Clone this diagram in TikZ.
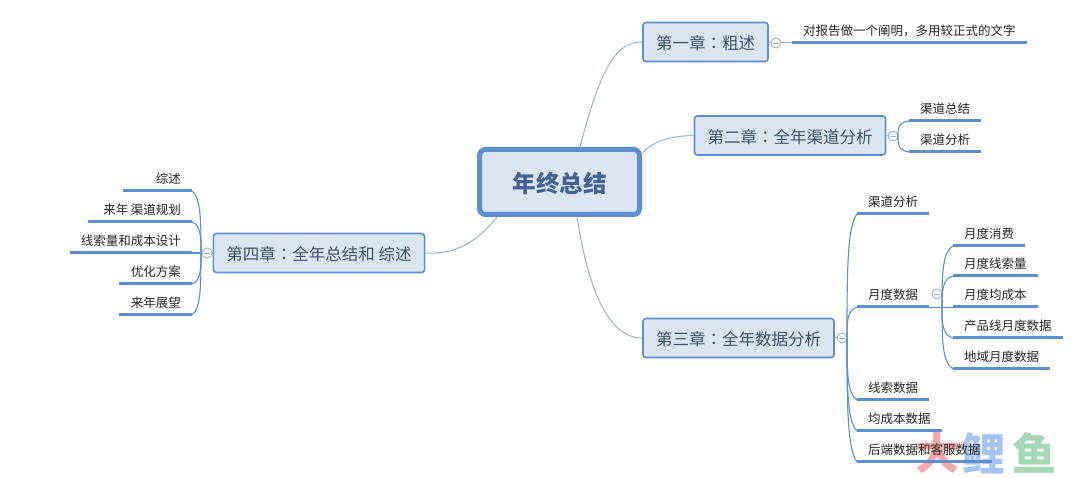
\documentclass[tikz,border=0pt]{standalone}
\usepackage{fontspec}
\setmainfont{Noto Sans CJK SC}
\newfontfamily\colonfont{Noto Sans CJK JP}
\newcommand{\chapsep}{{\colonfont ：}}
\usetikzlibrary{calc}
\definecolor{boxfill}{HTML}{DCE6F2}
\definecolor{boxline}{HTML}{5C8FD2}
\definecolor{limbline}{HTML}{93B2D8}
\definecolor{chaptext}{HTML}{3A5470}
\definecolor{roottext}{HTML}{3F6394}
\definecolor{leaftext}{HTML}{262626}
\definecolor{wmred}{HTML}{F9A6A8}
\definecolor{wmblue}{HTML}{A6C3F5}
\definecolor{wmgreen}{HTML}{A5D8B5}
\begin{document}
\begin{tikzpicture}[x=1pt,y=-1pt]
\tikzstyle{chapbox}=[draw=boxline, fill=boxfill, line width=1.6pt, rounded corners=3pt,
    text=chaptext, font=\fontsize{16.5pt}{18pt}\selectfont, inner xsep=13pt, inner ysep=0pt,
    minimum height=39pt, text height=18pt, text depth=2pt]
\tikzstyle{rootbox}=[draw=boxline, fill=boxfill, line width=5pt, rounded corners=6pt,
    text=roottext, font=\fontsize{23.5pt}{25pt}\selectfont\bfseries, minimum width=160pt, minimum height=65pt,
    inner sep=0pt, text height=24pt, text depth=2pt]
\tikzstyle{leaf}=[text=leaftext, font=\fontsize{12.5pt}{14pt}\selectfont, inner xsep=11pt, inner ysep=5pt,
    text height=10pt, text depth=2pt]
\tikzstyle{toggle}=[circle, draw=limbline, fill=white, line width=0.9pt, inner sep=0pt, minimum size=10pt,
    path picture={\draw[limbline,line width=0.9pt] ([xshift=-3pt]path picture bounding box.center) -- ([xshift=3pt]path picture bounding box.center);}]
\tikzstyle{limb}=[draw=limbline, line width=1pt]
\tikzstyle{twig}=[draw=boxline, line width=1.1pt]
\tikzstyle{underrule}=[draw=boxline, line width=3pt]
\tikzstyle{stamp}=[font=\fontsize{44pt}{46pt}\selectfont\bfseries, inner sep=0pt]
\useasboundingbox (0,0) rectangle (1080,478);
% watermark
\node (wm1) [stamp,text=wmred] at (937,453) {大};
\node (wm2) [stamp,text=wmblue] at (983,453) {鲤};
\node (wm3) [stamp,text=wmgreen] at (1034,453) {鱼};
% main boxes
\node (yearend) [rootbox] at (559.5,182) {年终总结};
\node (chap1) [chapbox] at (705.5,42) {第一章\chapsep 粗述};
\node (chap2) [chapbox] at (790,135.5) {第二章\chapsep 全年渠道分析};
\node (chap3) [chapbox] at (738.5,338) {第三章\chapsep 全年数据分析};
\node (chap4) [chapbox] at (319,253) {第四章\chapsep 全年总结和 综述};
% first chapter
\node (a1) [leaf,anchor=south west] at (792,43) {对报告做一个阐明，多用较正式的文字};
% second chapter
\node (b1) [leaf,anchor=south west] at (909,121) {渠道总结};
\node (b2) [leaf,anchor=south west] at (909,152) {渠道分析};
% third chapter
\node (c1) [leaf,anchor=south west] at (857,214) {渠道分析};
\node (c2) [leaf,anchor=south west] at (857,307) {月度数据};
\node (c3) [leaf,anchor=south west] at (857,400) {线索数据};
\node (c4) [leaf,anchor=south west] at (857,431) {均成本数据};
\node (c5) [leaf,anchor=south west] at (857,462) {后端数据和客服数据};
\node (d1) [leaf,anchor=south west] at (953,246) {月度消费};
\node (d2) [leaf,anchor=south west] at (953,276) {月度线索量};
\node (d3) [leaf,anchor=south west] at (953,307) {月度均成本};
\node (d4) [leaf,anchor=south west] at (953,338) {产品线月度数据};
\node (d5) [leaf,anchor=south west] at (953,369) {地域月度数据};
% fourth chapter
\node (e1) [leaf,anchor=south east,text width=47pt,align=right] at (192,191) {综述};
\node (e2) [leaf,anchor=south east,text width=82pt,align=right] at (192,222) {\spaceskip=2.5pt 来年 渠道规划};
\node (e3) [leaf,anchor=south east,text width=100pt,align=right] at (192,253) {线索量和成本设计};
\node (e4) [leaf,anchor=south east,text width=51pt,align=right] at (192,284) {优化方案};
\node (e5) [leaf,anchor=south east,text width=51pt,align=right] at (192,315) {来年展望};
% collapse marks
\node (t1) [toggle] at (776,43) {};
\node (t2) [toggle] at (893,136) {};
\node (t3) [toggle] at (842,338) {};
\node (t4) [toggle] at (207,253) {};
\node (t5) [toggle] at (937,294) {};
% where the lines start
\coordinate (r1) at (580,147);
\coordinate (r2) at (642,153);
\coordinate (r3) at (577,217);
\coordinate (r4) at (497,217);
\coordinate (j2) at (898,136);
\coordinate (j3) at (847,338);
\coordinate (j5) at (942,307);
\coordinate (j4) at (201,253);
% lines from the centre
\draw[limb] (r1) .. controls (602,62) and (618,42) .. (chap1.west);
\draw[limb] (r2) .. controls (655,140) and (672,136) .. (chap2.west);
\draw[limb] (r3) .. controls (590,300) and (612,338) .. (chap3.west);
\draw[limb] (r4) .. controls (472,248) and (450,254) .. (chap4.east);
% lines to the leaves
\draw[limb] (chap1.east) -- (t1.west);
\draw[limb] (t1.east) -- (a1.south west);
\draw[limb] (chap2.east) -- (t2.west);
\foreach \n in {b1,b2}
    \draw[twig] (j2) .. controls ($(j2)!0.5!(j2|-\n.south west)$) and ($(j2)!0.9!(j2|-\n.south west)$) .. (\n.south west);
\draw[limb] (chap3.east) -- (t3.west);
\foreach \n in {c1,c2,c3,c4,c5}
    \draw[twig] (j3) .. controls ($(j3)!0.5!(j3|-\n.south west)$) and ($(j3)!0.9!(j3|-\n.south west)$) .. (\n.south west);
\draw[twig,line width=0.7pt] (c2.south east) -- (d3.south west);
\foreach \n in {d1,d2,d4,d5}
    \draw[twig] (j5) .. controls ($(j5)!0.5!(j5|-\n.south west)$) and ($(j5)!0.9!(j5|-\n.south west)$) .. (\n.south west);
\draw[limb] (chap4.west) -- (t4.east);
\foreach \n in {e1,e2,e3,e4,e5}
    \draw[twig] (j4) .. controls ($(j4)!0.5!(j4|-\n.south east)$) and ($(j4)!0.9!(j4|-\n.south east)$) .. (\n.south east);
% underlines
\foreach \n in {a1,b1,b2,c1,c2,c3,c4,c5,d1,d2,d3,d4,d5,e1,e2,e3,e4,e5}
    \draw[underrule] (\n.south west) -- (\n.south east);
\end{tikzpicture}
\end{document}
